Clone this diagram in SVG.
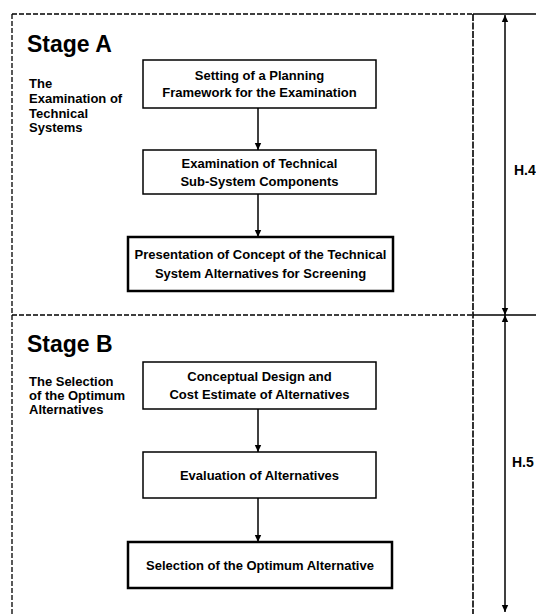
<svg xmlns="http://www.w3.org/2000/svg" width="536" height="614" viewBox="0 0 536 614">
<style>
  text { font-family: "Liberation Sans", Arial, sans-serif; font-weight: bold; fill: #000; }
  .stage { font-size: 23px; }
  .lbl { font-size: 13px; }
  .hl { font-size: 14px; }
  .box { font-size: 13px; text-anchor: middle; }
  .node { fill: #fff; stroke: #000; stroke-width: 1.5; }
  .thick { fill: #fff; stroke: #000; stroke-width: 2.5; }
  .dash { stroke: #000; stroke-width: 1.3; stroke-dasharray: 5 2; fill: none; }
  .dash2 { stroke: #000; stroke-width: 1.6; stroke-dasharray: 7 1.5; fill: none; }
  .solid { stroke: #000; stroke-width: 1.5; fill: none; }
  .conn { stroke: #000; stroke-width: 1.5; fill: none; marker-end: url(#ah); }
</style>
<defs>
  <marker id="ah" markerUnits="userSpaceOnUse" markerWidth="8" markerHeight="8" refX="7" refY="4" orient="auto">
    <path d="M0,0.8 L7,4 L0,7.2 Z" fill="#000"/>
  </marker>
</defs>
<rect width="536" height="614" fill="#fff"/>

<g id="frame">
  <line class="dash" x1="12" y1="14" x2="473" y2="14"/>
  <line class="solid" x1="473" y1="14" x2="536" y2="14"/>
  <line class="dash" x1="12" y1="315" x2="473" y2="315"/>
  <line class="solid" x1="473" y1="315" x2="536" y2="315"/>
  <line class="dash" x1="12" y1="14" x2="12" y2="614"/>
  <line class="dash2" x1="473" y1="14" x2="473" y2="614"/>
</g>

<g id="stageA">
  <text class="stage" x="27" y="52">Stage A</text>
  <text class="lbl" x="29" y="88">The</text>
  <text class="lbl" x="29" y="103">Examination of</text>
  <text class="lbl" x="29" y="118">Technical</text>
  <text class="lbl" x="29" y="132">Systems</text>
</g>

<g id="stageB">
  <text class="stage" x="27" y="352">Stage B</text>
  <text class="lbl" x="29" y="386">The Selection</text>
  <text class="lbl" x="29" y="400">of the Optimum</text>
  <text class="lbl" x="29" y="414">Alternatives</text>
</g>

<g id="n1">
  <rect class="node" x="143" y="60" width="233" height="48"/>
  <text class="box" x="259.5" y="80">Setting of a Planning</text>
  <text class="box" x="259.5" y="97">Framework for the Examination</text>
</g>
<g id="n2">
  <rect class="node" x="143" y="150" width="233" height="44"/>
  <text class="box" x="259.5" y="168">Examination of Technical</text>
  <text class="box" x="259.5" y="186">Sub-System Components</text>
</g>
<g id="n3">
  <rect class="thick" x="128" y="237" width="265" height="54"/>
  <text class="box" x="260.5" y="259">Presentation of Concept of the Technical</text>
  <text class="box" x="260.5" y="278">System Alternatives for Screening</text>
</g>
<g id="n4">
  <rect class="node" x="143" y="362" width="233" height="47"/>
  <text class="box" x="259.5" y="381">Conceptual Design and</text>
  <text class="box" x="259.5" y="399">Cost Estimate of Alternatives</text>
</g>
<g id="n5">
  <rect class="node" x="143" y="452" width="233" height="46"/>
  <text class="box" x="259.5" y="480">Evaluation of Alternatives</text>
</g>
<g id="n6">
  <rect class="thick" x="128" y="542" width="264" height="46"/>
  <text class="box" x="260" y="570">Selection of the Optimum Alternative</text>
</g>

<g id="connectors">
  <line class="conn" x1="258" y1="108" x2="258" y2="150"/>
  <line class="conn" x1="258" y1="194" x2="258" y2="237"/>
  <line class="conn" x1="258" y1="409" x2="258" y2="452"/>
  <line class="conn" x1="258" y1="498" x2="258" y2="542"/>
</g>

<g id="spans">
  <line class="conn" x1="505" y1="165" x2="505" y2="15"/>
  <line class="conn" x1="505" y1="165" x2="505" y2="315"/>
  <line class="conn" x1="505" y1="460" x2="505" y2="315"/>
  <line class="conn" x1="505" y1="460" x2="505" y2="612"/>
  <text class="hl" x="514" y="175">H.4</text>
  <text class="hl" x="512" y="467">H.5</text>
</g>
</svg>
